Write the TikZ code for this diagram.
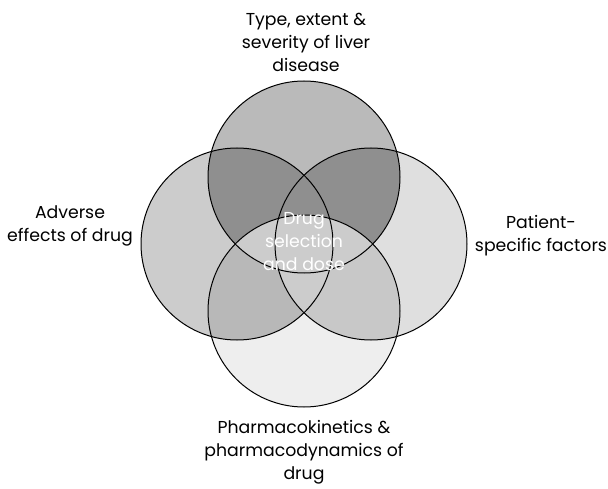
\documentclass[tikz,border=0pt]{standalone}
\usepackage{fontspec}
\setmainfont{Poppins}
\definecolor{cT}{HTML}{BABABA}
\definecolor{cL}{HTML}{CCCCCC}
\definecolor{cR}{HTML}{DFDFDF}
\definecolor{cB}{HTML}{EEEEEE}
\definecolor{cTL}{HTML}{8F8F8F}
\definecolor{cLB}{HTML}{B8B8B8}
\definecolor{cRB}{HTML}{C8C8C8}
\definecolor{cC}{HTML}{CCCCCC}
\tikzset{
  lbl/.style={align=center, inner sep=0pt, font=\fontsize{17.3}{23}\selectfont},
  ring/.style={draw=black, line width=1pt}
}
\def\cT{(304,177) circle (96pt)}
\def\cL{(237,244) circle (96pt)}
\def\cR{(371,244) circle (96pt)}
\def\cB{(304,311) circle (96pt)}
\begin{document}
\begin{tikzpicture}[x=1pt,y=-1pt]
\useasboundingbox (0,0) rectangle (608,489);
% base fills
\fill[cT] \cT;
\fill[cL] \cL;
\fill[cR] \cR;
\fill[cB] \cB;
\begin{scope}\clip \cT; \fill[cTL] \cL; \fill[cTL] \cR; \end{scope}
\begin{scope}\clip \cB; \fill[cLB] \cL; \fill[cRB] \cR; \end{scope}
\begin{scope}\clip \cB; \fill[cC] \cT; \end{scope}
\begin{scope}\clip \cB; \clip \cL; \fill[cC] \cR; \end{scope}
% outlines
\draw[ring] \cT;
\draw[ring] \cL;
\draw[ring] \cR;
\draw[ring] \cB;
% labels
\node[lbl] (top) at (306,42) {Type, extent \&\\severity of liver\\disease};
\node[lbl] (left) at (70,226) {Adverse\\effects of drug};
\node[lbl] (right) at (541,236) {Patient-\\specific factors};
\node[lbl] (bottom) at (304,452) {Pharmacokinetics \&\\pharmacodynamics of\\drug};
\node[lbl, text=white] (centre) at (304,242) {Drug\\selection\\and dose};
\end{tikzpicture}
\end{document}
